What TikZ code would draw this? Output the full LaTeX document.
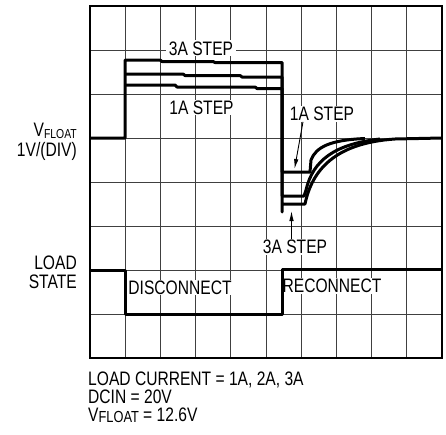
\documentclass[tikz,border=0pt]{standalone}
\usepackage{fontspec}
\setmainfont{Liberation Sans}[FakeStretch=0.8]
\usetikzlibrary{arrows.meta}
\begin{document}
\begin{tikzpicture}[x=1pt,y=-1pt,
  lbl/.style={font=\fontsize{19.5}{20}\selectfont, fill=white, inner xsep=3pt, inner ysep=1pt},
  txt/.style={font=\fontsize{19.5}{20}\selectfont, inner sep=0pt},
  gridline/.style={draw=black!75, line width=0.9pt},
  frame/.style={draw=black, line width=1.6pt},
  trace/.style={draw=black, line width=3pt, line join=round},
  arr/.style={draw=black, line width=0.9pt, -{Latex[length=10pt,width=4.5pt]}}]
\useasboundingbox (0,0) rectangle (446,434);
% grid
\foreach \i in {1,...,9} \draw[gridline] ({90+35.2*\i},6) -- ({90+35.2*\i},358);
\foreach \j in {1,...,7} \draw[gridline] (90,{6+44*\j}) -- (442,{6+44*\j});
\draw[frame] (90,6) rectangle (442,358);
% labels inside grid
\node[lbl] (u3a) at (201,48.3) {3A STEP};
\node[lbl] (u1a) at (201.5,107.5) {1A STEP};
\node[lbl] (r1a) at (322,113.7) {1A STEP};
\node[lbl] (l3a) at (295,246.7) {3A STEP};
\node[lbl] (dis) at (180,287.5) {DISCONNECT};
\node[lbl] (rec) at (332,286) {RECONNECT};
% left labels
\node[txt, anchor=base east] (vf) at (77,136.7) {V\raisebox{-1.8pt}{\fontsize{13}{13}\selectfont FLOAT}};
\node[txt, anchor=base east] (dv) at (77,156.7) {1V/(DIV)};
\node[txt, anchor=base east] (ld) at (77,269.3) {LOAD};
\node[txt, anchor=base east] (st) at (77,288.3) {STATE};
% bottom text
\node[txt, anchor=base west] (b1) at (88,385.7) {LOAD CURRENT = 1A, 2A, 3A};
\node[txt, anchor=base west] (b2) at (88,403.3) {DCIN = 20V};
\node[txt, anchor=base west] (b3) at (88,421) {V\raisebox{-1.8pt}{\fontsize{16}{16}\selectfont FLOAT} = 12.6V};
% VFLOAT traces
\draw[trace] (90,138) -- (125,138) -- (125,60) -- (160,60) -- (162,61.5) -- (213,61.5) -- (215,62.5) -- (282,62.5) -- (282,212) -- (282,204) -- (305,204) .. controls (312,170) and (335,143) .. (395,139) -- (442,138);
\draw[trace] (125,74) -- (183,74) -- (185,75.5) -- (240,75.5) -- (242,77) -- (282,77) -- (282,196) -- (304,196) -- (306,190) .. controls (313,160) and (335,144) .. (380,139);
\draw[trace] (125,85) -- (175,85) -- (177,87) -- (255,87) -- (257,88.5) -- (282,88.5) -- (282,172) -- (310,172) -- (311,160) .. controls (316,147) and (330,140) .. (365,138.5);
% load state trace
\draw[trace] (90,270) -- (125.5,270) -- (125.5,314.5) -- (282,314.5) -- (282,269.5) -- (442,269.5);
% arrows
\coordinate (t1) at (294.5,169);
\draw[arr] ([xshift=-19pt]r1a.south) -- (t1);
\coordinate (t3) at (291.5,211);
\draw[arr] ([xshift=-3.5pt]l3a.north) -- (t3);
\end{tikzpicture}
\end{document}
